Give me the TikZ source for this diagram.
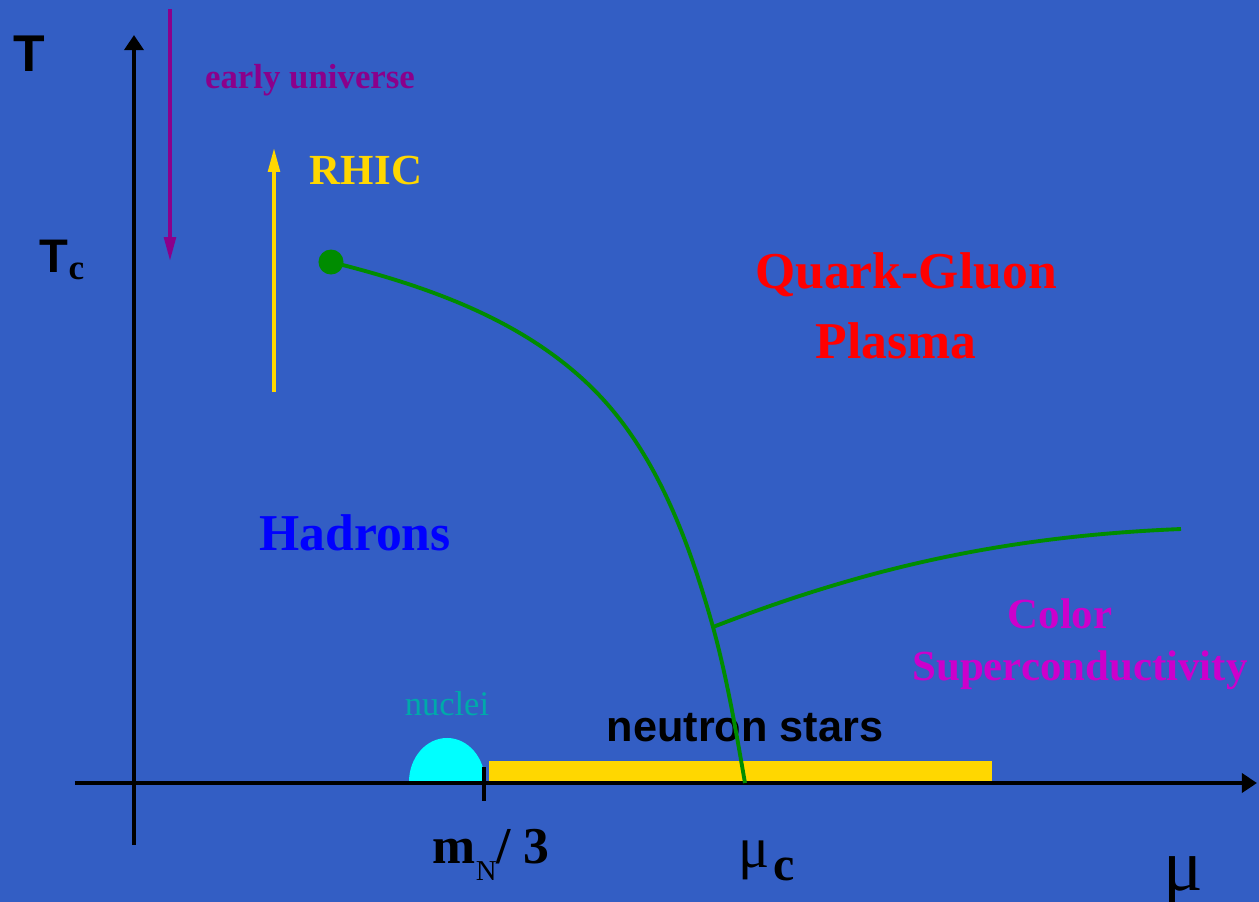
\documentclass[tikz,border=0pt]{standalone}
\usepackage{fontspec}
\setmainfont{Liberation Serif}
\newfontfamily\helvfont{Liberation Sans}
\usetikzlibrary{positioning,arrows.meta}

\definecolor{slideblue}{RGB}{51,94,196}
\definecolor{linegreen}{RGB}{0,140,0}
\definecolor{stargold}{RGB}{255,215,0}
\definecolor{nucleicyan}{RGB}{0,255,255}
\definecolor{nucleitext}{RGB}{0,170,170}
\definecolor{univpurple}{RGB}{139,0,139}
\definecolor{cscmagenta}{RGB}{204,0,204}

\begin{document}
\begin{tikzpicture}[x=0.01cm, y=-0.01cm,
      every node/.style={inner sep=0pt, anchor=base},
      axisline/.style={draw=black, line width=1.1pt},
      axis/.style={axisline, -{Triangle[length=4.3pt, width=5.4pt]}},
      probe/.style={line width=1pt, -{Triangle[length=6.8pt, width=3.3pt]}},
      phase/.style={draw=linegreen, line width=1.1pt},
      region/.style={font=\fontsize{14.7}{17}\selectfont\bfseries},
      small/.style={font=\fontsize{12.2}{14}\selectfont\bfseries},
      tiny/.style={font=\fontsize{9.8}{12}\selectfont},
  ]
    %% --- slide background ---
    \fill[slideblue] (0,0) rectangle (1259,902);
    \useasboundingbox (0,0) rectangle (1259,902);

    %% --- nuclei blob and neutron star band ---
    \fill[nucleicyan] (409,782) arc[start angle=180, end angle=0,
                                    x radius=0.38cm, y radius=0.44cm];
    \fill[stargold] (489,761) rectangle (992,782);

    %% --- axes ---
    \coordinate (ybot) at (134,845);
    \coordinate (ytop) at (134,35);
    \coordinate (xleft) at (75,783);
    \coordinate (xright) at (1257,783);
    \draw[axis] (ybot) -- (ytop);
    \draw[axis] (xleft) -- (xright);
    \draw[axisline] (484,767) -- (484,801);

    %% --- axis labels ---
    \node[font=\helvfont\fontsize{14.7}{17}\selectfont\bfseries] (T) at (29,71) {T};
    \node[font=\helvfont\fontsize{13.4}{16}\selectfont\bfseries] (Tc) at (62,272)
      {T\raisebox{-2pt}{\normalfont\fontsize{10}{12}\selectfont\bfseries c}};
    \node[region, anchor=base west] (mN) at (432,863)
      {m\raisebox{-5.1pt}{\mdseries\fontsize{8.2}{10}\selectfont N}/ 3};
    \node[anchor=base west, font=\fontsize{16.5}{19}\selectfont] (muc) at (738,867)
      {μ\hspace{1pt}\raisebox{-3.7pt}{\fontsize{13.6}{16}\selectfont\bfseries c}};
    \node[anchor=base west, font=\fontsize{21}{24}\selectfont] (mu) at (1163,890) {μ};

    %% --- probes ---
    \coordinate (univ start) at (170,9);
    \coordinate (univ end) at (170,261);
    \coordinate (rhic start) at (274,392);
    \coordinate (rhic end) at (274,148);
    \draw[probe, draw=univpurple, fill=univpurple] (univ start) -- (univ end);
    \draw[probe, draw=stargold, fill=stargold] (rhic start) -- (rhic end);
    \node[font=\fontsize{9.9}{12}\selectfont\bfseries, text=univpurple] (univ) at (310,88) {early universe};
    \node[small, text=stargold] (rhic) at (366,184) {RHIC};

    %% --- phase labels ---
    \node[region, text=red] (qgp) at (906,288) {Quark-Gluon};
    \node[region, text=red] (plasma) at (896,358) {Plasma};
    \node[region, text=blue] (hadrons) at (355,550) {Hadrons};
    \node[small, text=cscmagenta] (color) at (1060,628) {Color};
    \node[small, text=cscmagenta] (csc) at (1080,680) {Superconductivity};
    \node[tiny, text=nucleitext] (nuclei) at (447,715) {nuclei};
    \node[font=\helvfont\fontsize{12.3}{14}\selectfont\bfseries] (nstars) at (745,741) {neutron stars};

    %% --- phase boundaries ---
    \coordinate (cep) at (331,262);
    \coordinate (bend) at (587,383);
    \coordinate (triple) at (713,627);
    \coordinate (muc end) at (745,783);
    \coordinate (csc end) at (1181,529);
    \draw[phase] (cep) .. controls (423,285) and (517,317) .. (bend)
      .. controls (654,446) and (688,538) .. (triple)
      .. controls (727,678) and (736,731) .. (muc end);
    \draw[phase] (triple) .. controls (870,566) and (1010,536) .. (csc end);
    \node[circle, fill=linegreen, minimum size=0.25cm, anchor=center] (cepdot) at (cep) {};
  \end{tikzpicture}
\end{document}
